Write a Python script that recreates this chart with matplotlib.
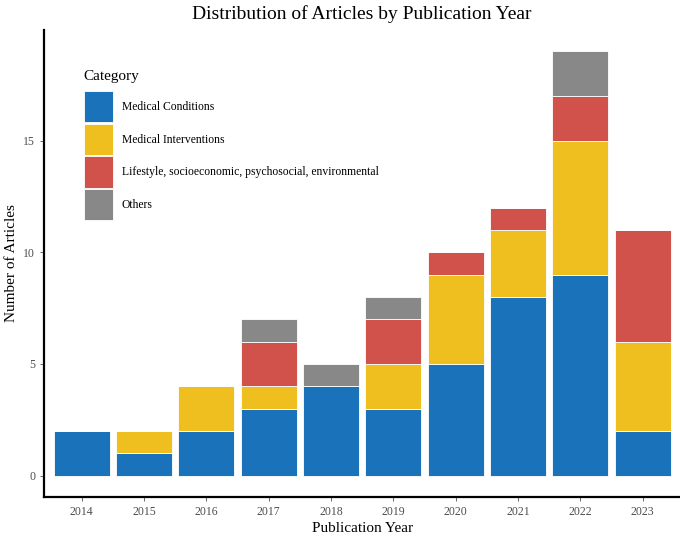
import numpy as np
import matplotlib
matplotlib.use("Agg")
import matplotlib.pyplot as plt

plt.rcParams['font.family'] = ['Liberation Serif', 'DejaVu Serif']

years = ['2014', '2015', '2016', '2017', '2018', '2019', '2020', '2021', '2022', '2023']
categories = ['Medical Conditions', 'Medical Interventions',
              'Lifestyle, socioeconomic, psychosocial, environmental', 'Others']
medical_conditions = [2, 1, 2, 3, 4, 3, 5, 8, 9, 2]
medical_interventions = [0, 1, 2, 1, 0, 2, 4, 3, 6, 4]
lifestyle = [0, 0, 0, 2, 0, 2, 1, 1, 2, 5]
others = [0, 0, 0, 1, 1, 1, 0, 0, 2, 0]
colors = ['#1a73ba', '#efbf1f', '#d1524b', '#888888']

fig = plt.figure(figsize=(6.8, 5.37), dpi=100)
ax = fig.add_axes([0.065, 0.075, 0.935, 0.869])

x = np.arange(len(years))
bottom = np.zeros(len(years))
for vals, lab, col in zip([medical_conditions, medical_interventions, lifestyle, others],
                          categories, colors):
    vals = np.array(vals, dtype=float)
    ax.bar(x, vals, width=0.9, bottom=bottom, color=col, edgecolor='white',
           linewidth=0.6, label=lab)
    bottom += vals

ax.set_xlim(-0.6, 9.6)
ax.set_ylim(-0.95, 19.95)
ax.set_xticks(x)
ax.set_xticklabels(years)
ax.set_yticks([0, 5, 10, 15])
ax.tick_params(axis='both', labelsize=8.5, colors='#4d4d4d', length=3, width=0.6)

for s in ['top', 'right']:
    ax.spines[s].set_visible(False)
for s in ['left', 'bottom']:
    ax.spines[s].set_linewidth(1.6)
    ax.spines[s].set_color('black')

ax.set_xlabel('Publication Year', fontsize=11, labelpad=3)
ax.set_ylabel('Number of Articles', fontsize=11, labelpad=4)
ax.set_title('Distribution of Articles by Publication Year', fontsize=14, pad=8)

leg = ax.legend(title='Category', loc='upper left', bbox_to_anchor=(0.055, 0.925),
                frameon=False, fontsize=8.4, title_fontsize=11,
                handlelength=2.5, handleheight=3.75, labelspacing=0.12,
                handletextpad=0.75, borderaxespad=0)
leg._legend_box.align = 'left'
leg._legend_box.sep = 6  # extra room below the legend title

fig.savefig('out.png', dpi=100)
